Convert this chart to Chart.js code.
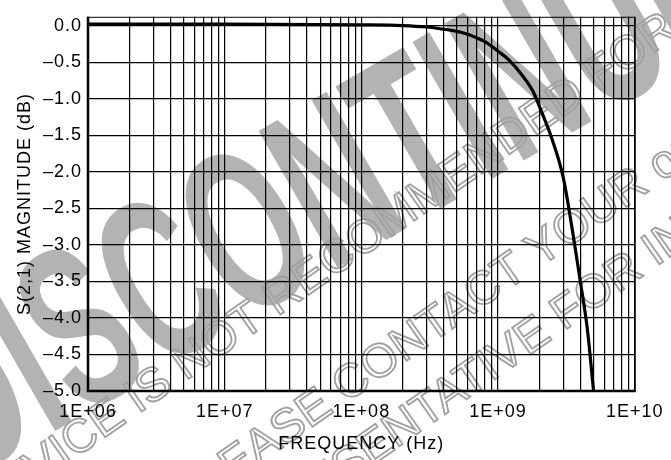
<!DOCTYPE html>
<html>
<head>
<meta charset="utf-8">
<script src="https://cdn.jsdelivr.net/npm/chart.js@4.4.1/dist/chart.umd.min.js"></script>
<style>
  html, body { margin: 0; padding: 0; background: #fff; }
  #wrap { width: 671px; height: 460px; }
</style>
</head>
<body>
<div id="wrap"><canvas id="chart"></canvas></div>
<script>
// Insertion loss curve
const freqHz = [1e6, 1e7, 1e8, 2e8, 3e8, 4e8, 5e8, 6e8, 7e8, 8e8, 1e9, 1.2e9, 1.5e9, 1.8e9, 2e9, 2.5e9, 3e9, 3.5e9, 4e9, 4.5e9, 5e9];
const s21dB = [0.02, 0.02, 0.01, 0.0, -0.02, -0.05, -0.08, -0.12, -0.17, -0.22, -0.35, -0.47, -0.68, -0.90, -1.10, -1.57, -2.08, -2.80, -3.50, -4.15, -5.0];

// Axes
const yTicks = [0, -0.5, -1.0, -1.5, -2.0, -2.5, -3.0, -3.5, -4.0, -4.5, -5.0];
const xDecades = [1e6, 1e7, 1e8, 1e9, 1e10];
const xDecadeLabels = ['1E+06', '1E+07', '1E+08', '1E+09', '1E+10'];

const FONT = '"Liberation Sans", Arial, sans-serif';

// grid positions 1..9 x each decade
const xGrid = [];
xDecades.forEach((d, i) => {
    if (i === xDecades.length - 1) { xGrid.push(d); return; }
    for (let k = 1; k <= 9; k++) xGrid.push(d * k);
});

// Gray "discontinued" stamp behind the grid
const watermark = {
    id: 'watermark',
    beforeDraw(chart) {
        const ctx = chart.ctx;
        ctx.save();
        ctx.letterSpacing = '0px';
        ctx.textAlign = 'center';
        ctx.textBaseline = 'middle';

        ctx.save();
        ctx.translate(372, 175);
        ctx.rotate(-30 * Math.PI / 180);
        ctx.scale(0.58, 1);
        ctx.fillStyle = '#b3b3b3';
        ctx.font = 'bold 230px ' + FONT;
        ctx.fillText('DISCONTINUED', 0, 0);
        ctx.restore();

        ctx.strokeStyle = '#a0a0a0';
        ctx.lineWidth = 1.8;
        const lines = [
            { text: 'THIS DEVICE IS NOT RECOMMENDED FOR NEW DESIGN.', x: 410, y: 208 },
            { text: 'PLEASE CONTACT YOUR onsemi', x: 478, y: 295 },
            { text: 'REPRESENTATIVE FOR INFORMATION', x: 560, y: 318 }
        ];
        lines.forEach(l => {
            ctx.save();
            ctx.translate(l.x, l.y);
            ctx.rotate(-35 * Math.PI / 180);
            ctx.font = '47px ' + FONT;
            ctx.strokeText(l.text, 0, 0);
            ctx.restore();
        });
        ctx.restore();
    },
    afterDatasetsDraw(chart) {
        // plot frame: heavy left/bottom, light top/right
        const { ctx, chartArea: a } = chart;
        ctx.save();
        ctx.strokeStyle = '#000';
        ctx.lineWidth = 1;
        ctx.beginPath();
        ctx.moveTo(a.left, a.top + 0.5);
        ctx.lineTo(a.right + 0.5, a.top + 0.5);
        ctx.lineTo(a.right + 0.5, a.bottom);
        ctx.stroke();
        ctx.lineWidth = 2.5;
        ctx.beginPath();
        ctx.moveTo(a.left, a.top);
        ctx.lineTo(a.left, a.bottom);
        ctx.lineTo(a.right + 1, a.bottom);
        ctx.stroke();
        ctx.restore();
    }
};

const spacing = {
    id: 'spacing',
    beforeDraw(chart) { chart.ctx.letterSpacing = '1px'; }
};

new Chart(document.getElementById('chart'), {
    type: 'line',
    data: {
        datasets: [{
            label: 'S21',
            data: freqHz.map((f, i) => ({ x: f, y: s21dB[i] })),
            borderColor: '#000',
            borderWidth: 3.2,
            pointRadius: 0,
            cubicInterpolationMode: 'monotone',
            fill: false
        }]
    },
    options: {
        responsive: true,
        maintainAspectRatio: false,
        animation: false,
        devicePixelRatio: 1,
        layout: { padding: { left: 0, right: 35, top: 7, bottom: 0 } },
        plugins: {
            legend: { display: false },
            tooltip: { enabled: false }
        },
        scales: {
            x: {
                type: 'logarithmic',
                min: 1e6,
                max: 1e10,
                afterBuildTicks: axis => { axis.ticks = xGrid.map(v => ({ value: v })); },
                afterFit: axis => { axis.height = 69; },
                grid: { color: '#000', lineWidth: 1.2, drawTicks: false },
                border: { display: false },
                ticks: {
                    autoSkip: false,
                    maxRotation: 0,
                    padding: 10,
                    color: '#000',
                    font: { family: FONT, size: 18 },
                    callback: v => {
                        const i = xDecades.indexOf(v);
                        return i >= 0 ? xDecadeLabels[i] : '';
                    }
                },
                title: {
                    display: true,
                    text: 'FREQUENCY (Hz)',
                    color: '#000',
                    font: { family: FONT, size: 18 },
                    padding: { top: 0, bottom: 5 }
                }
            },
            y: {
                min: -5,
                max: 0.12,
                afterBuildTicks: axis => { axis.ticks = yTicks.map(v => ({ value: v })); },
                afterFit: axis => { axis.width = 88; },
                grid: { color: '#000', lineWidth: 1.2, drawTicks: false },
                border: { display: false },
                ticks: {
                    padding: 6,
                    color: '#000',
                    font: { family: FONT, size: 18 },
                    callback: v => (v < 0 ? '\u2013' : '') + Math.abs(v).toFixed(1)
                },
                title: {
                    display: true,
                    text: 'S(2,1) MAGNITUDE (dB)',
                    color: '#000',
                    font: { family: FONT, size: 18 },
                    padding: { top: 14, bottom: 0 }
                }
            }
        }
    },
    plugins: [spacing, watermark]
});
</script>
</body>
</html>
